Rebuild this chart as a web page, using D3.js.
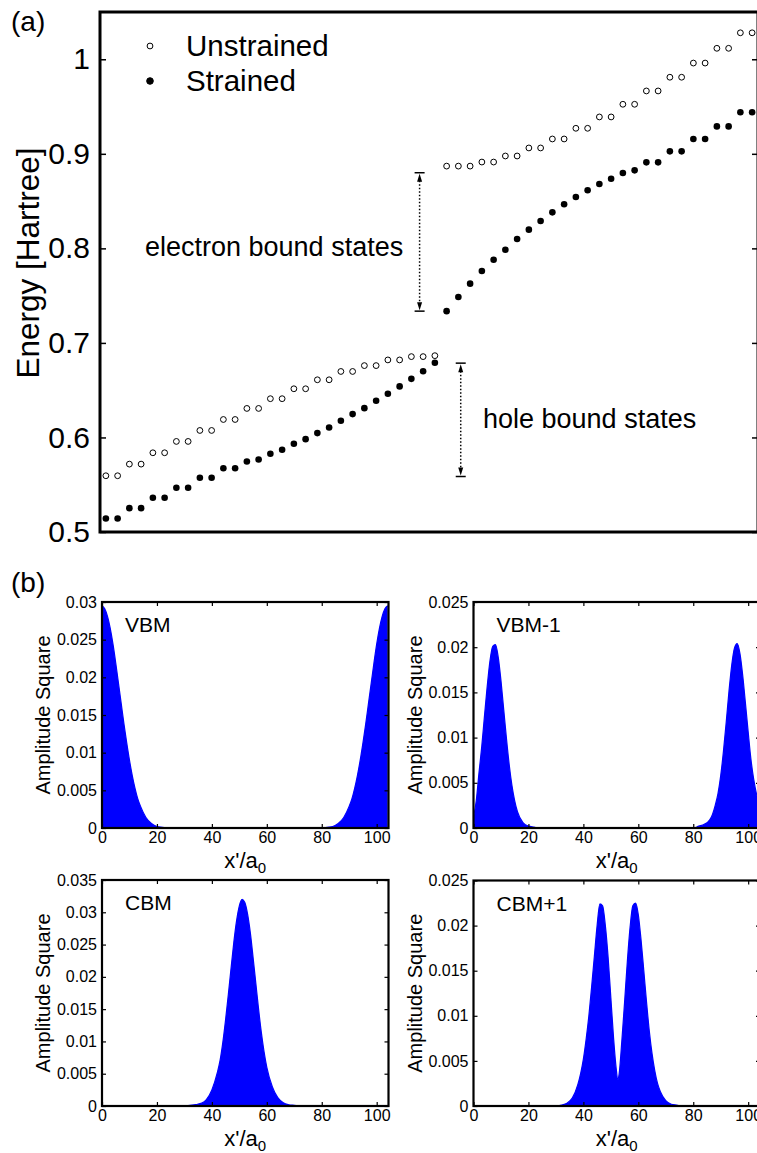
<!DOCTYPE html>
<html>
<head>
<meta charset="utf-8">
<script src="https://cdn.jsdelivr.net/npm/d3@7"></script>
<style>
  body { margin: 0; background: #fff; }
  svg text { font-family: "Liberation Sans", Arial, Helvetica, sans-serif; fill: #000; }
</style>
</head>
<body>
<svg id="fig" width="757" height="1153"></svg>
<script>
// ---- Panel (a): bound-state energies (Hartree), state index 1..56 ----
const unstrained = [
  0.5595, 0.5595, 0.5718, 0.5718, 0.5838, 0.5838, 0.5958, 0.5958, 0.6074, 0.6074,
  0.6190, 0.6190, 0.6307, 0.6307, 0.6410, 0.6410, 0.6515, 0.6515, 0.6610, 0.6610,
  0.6698, 0.6698, 0.6760, 0.6760, 0.6820, 0.6820, 0.6855, 0.6855, 0.6865,
  0.8870, 0.8870, 0.8870, 0.8913, 0.8913, 0.8977, 0.8977, 0.9062, 0.9062, 0.9157,
  0.9157, 0.9270, 0.9270, 0.9390, 0.9390, 0.9524, 0.9524, 0.9665, 0.9665, 0.9810,
  0.9810, 0.9960, 0.9960, 1.0116, 1.0116, 1.0280, 1.0280
];
const strained = [
  0.5143, 0.5143, 0.5252, 0.5252, 0.5362, 0.5362, 0.5468, 0.5468, 0.5574, 0.5574,
  0.5675, 0.5675, 0.5746, 0.5767, 0.5827, 0.5870, 0.5933, 0.5982, 0.6046, 0.6106,
  0.6177, 0.6247, 0.6310, 0.6388, 0.6463, 0.6540, 0.6620, 0.6700, 0.6790,
  0.7336, 0.7485, 0.7627, 0.7760, 0.7880, 0.7986, 0.8099, 0.8198, 0.8289, 0.8381,
  0.8466, 0.8543, 0.8614, 0.8680, 0.8737, 0.8797, 0.8825, 0.8910, 0.8910, 0.9026,
  0.9026, 0.9157, 0.9157, 0.9290, 0.9290, 0.9439, 0.9439
];
const energyTicks = [0.5, 0.6, 0.7, 0.8, 0.9, 1];
const legendLabels = ['Unstrained', 'Strained'];

// double arrows: state index, top energy, bottom energy, label
const arrowX = [27.7, 31.2];
const arrowTop = [0.8800, 0.6786];
const arrowBottom = [0.7336, 0.5587];
const arrowLabels = ['electron bound states', 'hole bound states'];

// ---- Panel (b): |psi|^2 envelopes along x'/a0 ----
const vbmX = [0, 1, 2, 3, 4, 5, 6, 7, 8, 9, 10, 11, 12, 13, 14, 16, 18, 20, 22, 24,
              80, 82, 84, 86, 88, 90, 91, 92, 93, 94, 95, 96, 97, 98, 99, 100, 101, 102, 103, 104];
const vbmY = [0.0295, 0.0291, 0.0281, 0.0265, 0.0244, 0.0219, 0.0192, 0.0165, 0.0138, 0.0113,
              0.0090, 0.0070, 0.0053, 0.0039, 0.0029, 0.0014, 0.0006, 0.0002, 0.0001, 0,
              0, 0.0001, 0.0002, 0.0006, 0.0014, 0.0029, 0.0039, 0.0053, 0.0070, 0.0090,
              0.0113, 0.0138, 0.0165, 0.0192, 0.0219, 0.0244, 0.0265, 0.0281, 0.0291, 0.0295];

const vbm1X = [0, 1, 2, 3, 4, 5, 6, 7, 8, 9, 10, 11, 12, 13, 14, 15, 16, 18, 20, 22, 24,
               80, 82, 84, 86, 87, 88, 89, 90, 91, 92, 93, 94, 95, 96, 97, 98, 99, 100,
               101, 102, 103, 104];
const vbm1Y = [0.0012, 0.0030, 0.0061, 0.0090, 0.0124, 0.0157, 0.0185, 0.0201, 0.0203, 0.0189,
               0.0163, 0.0131, 0.0099, 0.0070, 0.0047, 0.0030, 0.0018, 0.0006, 0.0002, 0.0001, 0,
               0, 0.0002, 0.0004, 0.0009, 0.0015, 0.0025, 0.0038, 0.0058, 0.0085, 0.0117,
               0.0151, 0.0180, 0.0199, 0.0204, 0.0193, 0.0169, 0.0138, 0.0106,
               0.0076, 0.0054, 0.0038, 0.0028];

const cbmX = [0, 30, 32, 34, 36, 38, 40, 42, 43, 44, 45, 46, 47, 48, 49, 50, 51, 52, 53, 54,
              55, 56, 57, 58, 59, 60, 62, 64, 66, 68, 70, 72, 104];
const cbmY = [0, 0, 0.0001, 0.0002, 0.0004, 0.0010, 0.0025, 0.0052, 0.0071, 0.0099, 0.0134, 0.0173,
              0.0214, 0.0254, 0.0287, 0.0310, 0.0320, 0.0315, 0.0297, 0.0268,
              0.0230, 0.0190, 0.0150, 0.0114, 0.0084, 0.0060, 0.0030, 0.0013, 0.0005, 0.0002, 0.0001, 0, 0];

const cbm1X = [0, 30, 32, 34, 36, 38, 39, 40, 41, 42, 43, 44, 45, 46, 47, 48, 49, 50, 51, 52,
               52.5, 53, 54, 55, 56, 57, 58, 59, 60, 61, 62, 63, 64, 65, 66, 67, 68, 70,
               72, 74, 76, 104];
const cbm1Y = [0, 0, 0.0001, 0.0003, 0.0009, 0.0024, 0.0036, 0.0052, 0.0074, 0.0100, 0.0132,
               0.0166, 0.0200, 0.0224, 0.0222, 0.0200, 0.0165, 0.0120, 0.0075, 0.0040,
               0.0029, 0.0035, 0.0072, 0.0115, 0.0160, 0.0198, 0.0222, 0.0225, 0.0212, 0.0184,
               0.0150, 0.0115, 0.0083, 0.0058, 0.0039, 0.0025, 0.0016, 0.0006,
               0.0002, 0.0001, 0, 0];

const posTicks = [0, 20, 40, 60, 80, 100];
const ampTicks035 = [0, 0.005, 0.01, 0.015, 0.02, 0.025, 0.03, 0.035];
const ampTicks030 = [0, 0.005, 0.01, 0.015, 0.02, 0.025, 0.03];
const ampTicks025 = [0, 0.005, 0.01, 0.015, 0.02, 0.025];
const stateNames = ['VBM', 'VBM-1', 'CBM', 'CBM+1'];

const svg = d3.select('#fig');

// ================= Panel (a) =================
(function () {
    const left = 100, right = 758, top = 12, bottom = 532;
    const x = d3.scaleLinear().domain([0.5, 56.5]).range([left, right]);
    const y = d3.scaleLinear().domain([0.5, 1.05]).range([bottom, top]);
    const g = svg.append('g');

    // inward ticks left (with labels) and right (no labels)
    const yl = g.append('g')
        .attr('transform', `translate(${left},0)`)
        .call(d3.axisLeft(y).tickValues(energyTicks).tickSize(-6).tickPadding(10)
            .tickFormat(d => d === 1 ? '1' : d.toFixed(1)));
    yl.select('.domain').remove();
    yl.selectAll('line').attr('stroke', '#000').attr('stroke-width', 1.5);
    yl.selectAll('text').attr('font-size', 30).attr('font-family', '"Liberation Sans", Arial, sans-serif');

    const yr = g.append('g')
        .attr('transform', `translate(${right},0)`)
        .call(d3.axisRight(y).tickValues(energyTicks).tickSize(-6).tickFormat(''));
    yr.select('.domain').remove();
    yr.selectAll('line').attr('stroke', '#000').attr('stroke-width', 1.5);

    g.append('rect')
        .attr('x', left).attr('y', top)
        .attr('width', right - left).attr('height', bottom - top)
        .attr('fill', 'none').attr('stroke', '#000').attr('stroke-width', 3);

    // markers
    g.append('g').selectAll('circle')
        .data(strained)
        .join('circle')
        .attr('cx', (d, i) => x(i + 1))
        .attr('cy', d => y(d))
        .attr('r', 3.3)
        .attr('fill', '#000');

    g.append('g').selectAll('circle')
        .data(unstrained)
        .join('circle')
        .attr('cx', (d, i) => x(i + 1))
        .attr('cy', d => y(d))
        .attr('r', 2.9)
        .attr('fill', 'none')
        .attr('stroke', '#000')
        .attr('stroke-width', 1);

    // legend
    const leg = g.append('g');
    [46, 81].forEach((ly, i) => {
        leg.append('circle')
            .attr('cx', 150).attr('cy', ly)
            .attr('r', i === 0 ? 2.9 : 3.3)
            .attr('fill', i === 0 ? 'none' : '#000')
            .attr('stroke', '#000').attr('stroke-width', 1);
        leg.append('text')
            .attr('x', 186).attr('y', ly + 10)
            .attr('font-size', 29.5)
            .text(legendLabels[i]);
    });

    // double arrows (dotted) with end bars
    arrowX.forEach((ax, i) => {
        const px = x(ax), y1 = y(arrowTop[i]), y2 = y(arrowBottom[i]);
        const a = g.append('g').attr('stroke', '#000');
        a.append('line')
            .attr('x1', px).attr('x2', px)
            .attr('y1', y1 + 8).attr('y2', y2 - 8)
            .attr('stroke-width', 1.5)
            .attr('stroke-dasharray', '1.5,2');
        [y1, y2].forEach(yy => {
            a.append('line')
                .attr('x1', px - 5).attr('x2', px + 5)
                .attr('y1', yy).attr('y2', yy)
                .attr('stroke-width', 1.5);
        });
        a.append('path')
            .attr('d', `M${px},${y1 + 1}L${px - 2.5},${y1 + 9}L${px + 2.5},${y1 + 9}Z`)
            .attr('fill', '#000').attr('stroke', 'none');
        a.append('path')
            .attr('d', `M${px},${y2 - 1}L${px - 2.5},${y2 - 9}L${px + 2.5},${y2 - 9}Z`)
            .attr('fill', '#000').attr('stroke', 'none');
    });

    g.append('text').attr('x', 145).attr('y', 256).attr('font-size', 27).text(arrowLabels[0]);
    g.append('text').attr('x', 483).attr('y', 428).attr('font-size', 27).text(arrowLabels[1]);

    g.append('text')
        .attr('transform', `translate(39,263) rotate(-90)`)
        .attr('text-anchor', 'middle')
        .attr('font-size', 31.5)
        .text('Energy [Hartree]');

    g.append('text').attr('x', 11).attr('y', 31).attr('font-size', 28).text('(a)');
})();

// ================= Panel (b) =================
svg.append('text').attr('x', 11).attr('y', 592).attr('font-size', 28).text('(b)');

const subplots = [
    { name: stateNames[0], xs: vbmX, ys: vbmY, ymax: 0.03, ticks: ampTicks030, left: 102, top: 602, bottom: 828 },
    { name: stateNames[1], xs: vbm1X, ys: vbm1Y, ymax: 0.025, ticks: ampTicks025, left: 473.5, top: 602, bottom: 828 },
    { name: stateNames[2], xs: cbmX, ys: cbmY, ymax: 0.035, ticks: ampTicks035, left: 102, top: 880, bottom: 1106 },
    { name: stateNames[3], xs: cbm1X, ys: cbm1Y, ymax: 0.025, ticks: ampTicks025, left: 473.5, top: 880.5, bottom: 1106 }
];

subplots.forEach(p => {
    const w = 286.5;
    const right = p.left + w;
    const x = d3.scaleLinear().domain([0, 104.3]).range([p.left, right]);
    const y = d3.scaleLinear().domain([0, p.ymax]).range([p.bottom, p.top]);
    const g = svg.append('g');
    const pts = p.xs.map((v, i) => [v, p.ys[i]]);

    const area = d3.area()
        .x(d => x(d[0]))
        .y0(y(0))
        .y1(d => y(d[1]))
        .curve(d3.curveMonotoneX);
    g.append('path')
        .datum(pts)
        .attr('d', area)
        .attr('fill', '#0000ff');
    g.append('path')
        .datum(pts)
        .attr('d', d3.line().x(d => x(d[0])).y(d => y(d[1])).curve(d3.curveMonotoneX))
        .attr('fill', 'none')
        .attr('stroke', '#0000ff')
        .attr('stroke-width', 1.2);

    const fmt = d3.format('~g');
    const axes = [
        { ax: d3.axisBottom(x).tickValues(posTicks).tickSize(-4).tickPadding(4), t: `translate(0,${p.bottom})` },
        { ax: d3.axisTop(x).tickValues(posTicks).tickSize(-4).tickFormat(''), t: `translate(0,${p.top})` },
        { ax: d3.axisLeft(y).tickValues(p.ticks).tickSize(-4).tickPadding(5).tickFormat(fmt), t: `translate(${p.left},0)` },
        { ax: d3.axisRight(y).tickValues(p.ticks).tickSize(-4).tickFormat(''), t: `translate(${right},0)` }
    ];
    axes.forEach(a => {
        const ag = g.append('g').attr('transform', a.t).call(a.ax);
        ag.select('.domain').remove();
        ag.selectAll('line').attr('stroke', '#000').attr('stroke-width', 1.2);
        ag.selectAll('text').attr('font-size', 16).attr('font-family', '"Liberation Sans", Arial, sans-serif');
    });

    g.append('rect')
        .attr('x', p.left).attr('y', p.top)
        .attr('width', w).attr('height', p.bottom - p.top)
        .attr('fill', 'none').attr('stroke', '#000').attr('stroke-width', 2.2);

    g.append('text')
        .attr('x', p.left + 23).attr('y', p.top + 30)
        .attr('font-size', 21)
        .text(p.name);

    g.append('text')
        .attr('transform', `translate(${p.left - 52},${(p.top + p.bottom) / 2}) rotate(-90)`)
        .attr('text-anchor', 'middle')
        .attr('font-size', 20)
        .text('Amplitude Square');

    const xl = g.append('text')
        .attr('x', (p.left + right) / 2).attr('y', p.bottom + 40)
        .attr('text-anchor', 'middle')
        .attr('font-size', 22);
    xl.append('tspan').text("x'/a");
    xl.append('tspan').attr('font-size', 15).attr('dy', 5).text('0');
});
</script>
</body>
</html>
